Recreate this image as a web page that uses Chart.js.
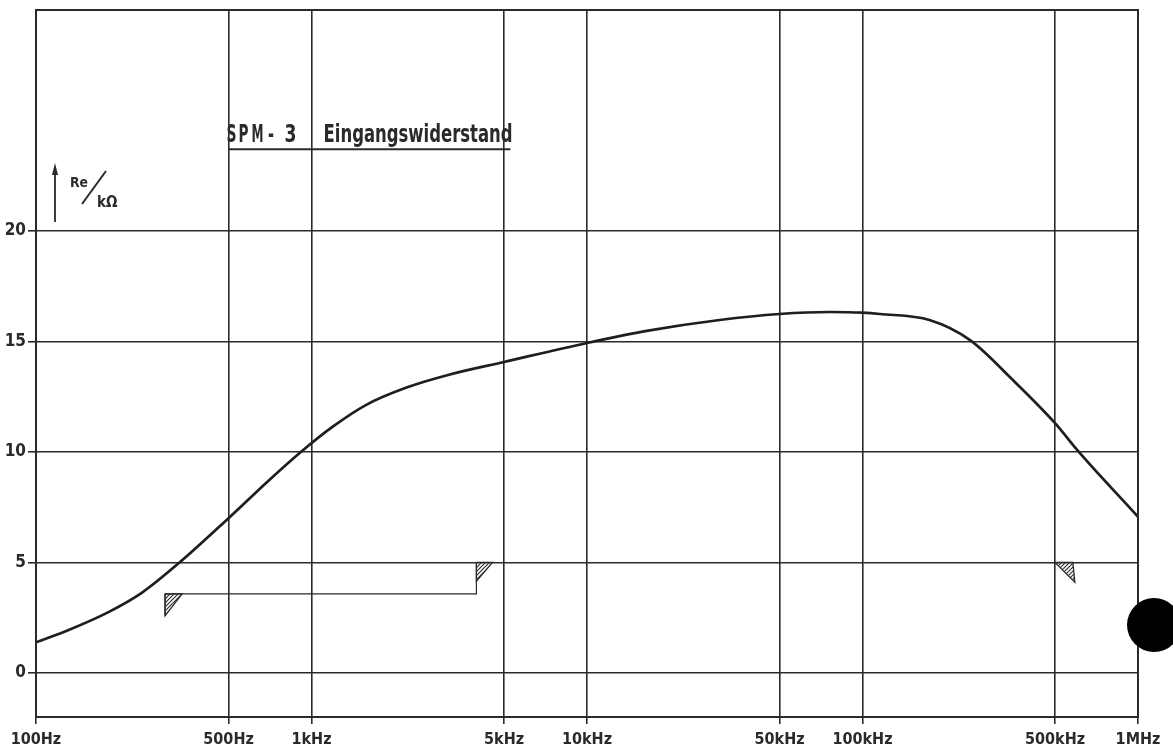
<!DOCTYPE html>
<html><head><meta charset="utf-8">
<script src="https://cdn.jsdelivr.net/npm/chart.js@4/dist/chart.umd.min.js"></script>
<style>html,body{margin:0;padding:0;background:#fff;}#wrap{width:1173px;height:756px;}</style>
</head><body><div id="wrap"><canvas id="c" width="1173" height="756"></canvas></div>
<script>
// ---- data ----
const freqs = [100, 132, 184, 242, 331, 500, 703, 926, 1191, 1580, 2200, 3130, 5000, 10000, 16900, 30300, 50000, 76000, 100000, 115600, 175000, 245000, 351000, 500000, 600000, 1000000];
const resistance = [1.38, 1.95, 2.76, 3.62, 4.98, 7.0, 8.73, 10.05, 11.13, 12.13, 12.9, 13.48, 14.07, 14.93, 15.5, 15.97, 16.24, 16.33, 16.3, 16.24, 15.97, 15.07, 13.26, 11.3, 10.1, 7.06];
const xTickValues = [100, 500, 1000, 5000, 10000, 50000, 100000, 500000, 1000000];
const xTickLabels = ['100Hz', '500Hz', '1kHz', '5kHz', '10kHz', '50kHz', '100kHz', '500kHz', '1MHz'];
const yTickValues = [0, 5, 10, 15, 20, 30];
const yTickLabels = ['0', '5', '10', '15', '20', ''];
const bracketFreqs = [294, 294, 3968, 3968];
const bracketValues = [2.58, 3.57, 3.57, 5];
const leftMarkFreqs = [294, 339, 294, 294];
const leftMarkValues = [3.57, 3.57, 2.58, 3.57];
const rightMarkFreqs = [3968, 4540, 3968, 3968];
const rightMarkValues = [5, 5, 4.14, 5];
const farMarkFreqs = [499000, 580000, 590000, 499000];
const farMarkValues = [5, 5, 4.1, 5];
const titleChars = ['S', 'P', 'M', '-', '3'];
const titleText2 = 'Eingangswiderstand';

const ink = '#2a2a2a';
const FONT = "'Liberation Sans Narrow', 'DejaVu Sans Condensed', sans-serif";
const TFONT = "'DejaVu Sans Condensed', 'Liberation Sans Narrow', sans-serif";
const pts = (xs, ys) => xs.map((x, i) => ({x: x, y: ys[i]}));

function hatch() {
  const c = document.createElement('canvas'); c.width = 4; c.height = 4;
  const g = c.getContext('2d');
  g.strokeStyle = ink; g.lineWidth = 1.1;
  g.beginPath(); g.moveTo(-1, 5); g.lineTo(5, -1); g.stroke();
  g.beginPath(); g.moveTo(-1, 1); g.lineTo(1, -1); g.stroke();
  g.beginPath(); g.moveTo(3, 5); g.lineTo(5, 3); g.stroke();
  return g.createPattern(c, 'repeat');
}
const pat = hatch();

const markDs = (xs, ys) => ({
  data: pts(xs, ys), borderColor: ink, borderWidth: 1.3, backgroundColor: pat,
  fill: 'shape', pointRadius: 0, tension: 0
});

const deco = {
  id: 'deco',
  afterDraw(chart) {
    const ctx = chart.ctx, a = chart.chartArea, xs = chart.scales.x, ys = chart.scales.y;
    ctx.save();
    ctx.strokeStyle = ink; ctx.lineWidth = 2;
    ctx.strokeRect(a.left, a.top, a.right - a.left, a.bottom - a.top);
    // title
    const tx = xs.getPixelForValue(500), ty = ys.getPixelForValue(23.7);
    ctx.fillStyle = ink;
    ctx.font = 'bold 24px ' + TFONT;
    ctx.textBaseline = 'alphabetic';
    ctx.textAlign = 'center';
    const offs = [3, 15, 29, 42.5, 62], widths = [10, 10, 12, 6, 12];
    titleChars.forEach((ch, i) => ctx.fillText(ch, tx + offs[i], ty - 7, widths[i]));
    ctx.textAlign = 'left';
    ctx.fillText(titleText2, tx + 95, ty - 7, 189);
    ctx.lineWidth = 2;
    ctx.beginPath(); ctx.moveTo(tx, ty); ctx.lineTo(xs.getPixelForValue(5270), ty); ctx.stroke();
    // axis label with arrow
    const ax = a.left + 19;
    ctx.lineWidth = 1.8;
    ctx.beginPath(); ctx.moveTo(ax, a.top + 212); ctx.lineTo(ax, a.top + 160); ctx.stroke();
    ctx.beginPath(); ctx.moveTo(ax - 3, a.top + 165); ctx.lineTo(ax, a.top + 153); ctx.lineTo(ax + 3, a.top + 165); ctx.closePath(); ctx.fill();
    ctx.font = 'bold 14px ' + TFONT;
    ctx.fillText('Re', a.left + 34, a.top + 177, 18);
    ctx.lineWidth = 2;
    ctx.beginPath(); ctx.moveTo(a.left + 46, a.top + 194); ctx.lineTo(a.left + 70, a.top + 161); ctx.stroke();
    ctx.font = 'bold 15px ' + TFONT;
    ctx.fillText('kΩ', a.left + 61, a.top + 197, 22);
    // punch hole
    ctx.fillStyle = '#000';
    ctx.beginPath(); ctx.arc(1154, 625, 27, 0, Math.PI * 2); ctx.fill();
    ctx.restore();
  }
};

new Chart(document.getElementById('c'), {
  type: 'line',
  data: {
    datasets: [
      { data: pts(freqs, resistance), borderColor: '#1e1e1e', borderWidth: 2.7, pointRadius: 0, cubicInterpolationMode: 'monotone', fill: false },
      { data: pts(bracketFreqs, bracketValues), borderColor: ink, borderWidth: 1.2, pointRadius: 0, tension: 0, fill: false },
      markDs(leftMarkFreqs, leftMarkValues),
      markDs(rightMarkFreqs, rightMarkValues),
      markDs(farMarkFreqs, farMarkValues)
    ]
  },
  options: {
    responsive: false, animation: false,
    layout: { padding: { top: 10, right: 35, left: 0, bottom: 0 } },
    plugins: { legend: { display: false }, tooltip: { enabled: false }, title: { display: false } },
    scales: {
      x: {
        type: 'logarithmic', min: 100, max: 1000000,
        afterBuildTicks: s => { s.ticks = xTickValues.map(v => ({ value: v })); },
        afterFit: s => { s.height = 39; s.paddingLeft = 0; s.paddingRight = 0; },
        ticks: {
          autoSkip: false, maxRotation: 0, color: ink, padding: 6,
          font: { family: FONT, size: 16, weight: 'bold' },
          callback: (v) => { const i = xTickValues.indexOf(v); return i >= 0 ? xTickLabels[i] : ''; }
        },
        grid: { color: ink, lineWidth: 1.6, tickLength: 7, drawTicks: true },
        border: { color: ink, width: 2 }
      },
      y: {
        min: -2, max: 30,
        afterBuildTicks: s => { s.ticks = yTickValues.map(v => ({ value: v })); },
        afterFit: s => { s.width = 36; s.paddingTop = 0; s.paddingBottom = 0; },
        ticks: {
          color: ink, padding: 2,
          font: { family: FONT, size: 17, weight: 'bold' },
          callback: (v) => { const i = yTickValues.indexOf(v); return i >= 0 ? yTickLabels[i] : ''; }
        },
        grid: { color: ink, lineWidth: 1.6, tickLength: 8,
          tickColor: (c) => (c.tick && c.tick.value === 30) ? 'rgba(0,0,0,0)' : ink },
        border: { color: ink, width: 2 }
      }
    }
  },
  plugins: [deco]
});
</script></body></html>
